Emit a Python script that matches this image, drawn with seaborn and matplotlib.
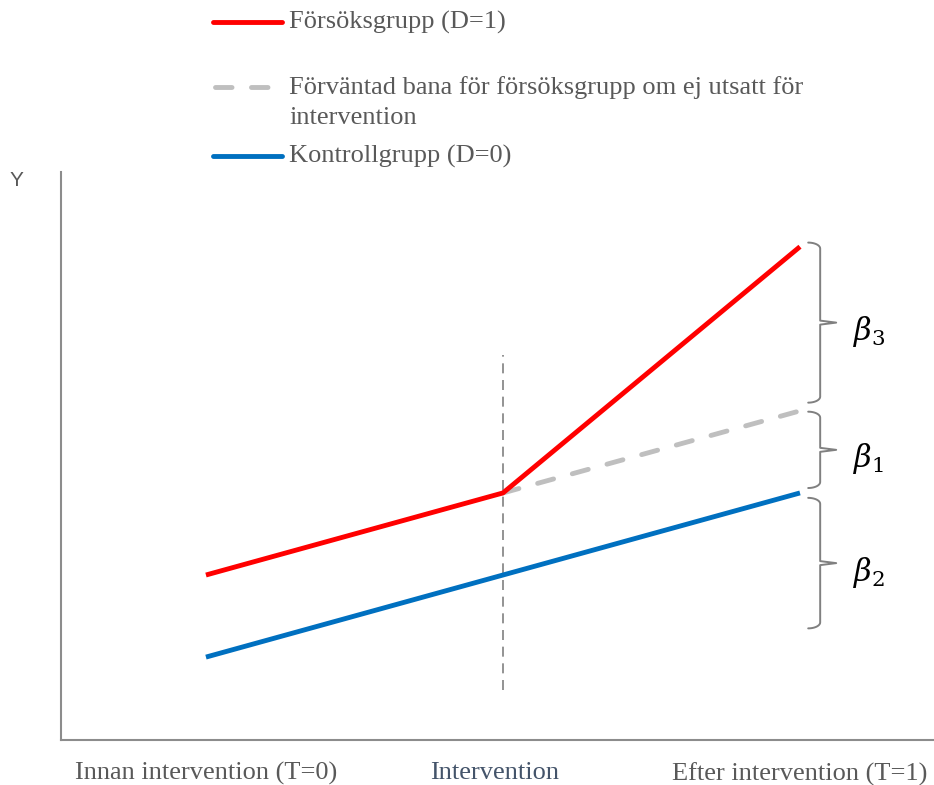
import numpy as np
import pandas as pd
import matplotlib
matplotlib.use("Agg")
import matplotlib.pyplot as plt
from matplotlib.lines import Line2D
from matplotlib.transforms import ScaledTranslation
import seaborn as sns

# ---- data ----
time_points = [0.0, 0.5, 1.0]
treat_y = [1.0, 2.0, 5.0]          # Försöksgrupp (D=1)
control_y = [0.0, 1.0, 2.0]        # Kontrollgrupp (D=0)
cf_x = [0.5, 1.0]
cf_y = [2.0, 3.0]                  # Förväntad bana (counterfactual)
tick_labels = ["Innan intervention (T=0)", "Intervention", "Efter intervention (T=1)"]
tick_colors = ["#595959", "#44546A", "#595959"]
legend_labels = ["Försöksgrupp (D=1)",
                 "Förväntad bana för försöksgrupp om ej utsatt för\nintervention",
                 "Kontrollgrupp (D=0)"]
braces = [(3.10, 5.05, r"$\beta_3$"), (2.06, 2.99, r"$\beta_1$"), (0.35, 1.94, r"$\beta_2$")]

RED = "#FF0000"
BLUE = "#0070C0"
LGRAY = "#BFBFBF"
DGRAY = "#808080"
TXT = "#595959"

sns.set_theme(style="white")
plt.rcParams["font.family"] = ["Liberation Serif", "DejaVu Serif"]
plt.rcParams["mathtext.fontset"] = "dejavuserif"

W, H = 934, 785
fig = plt.figure(figsize=(W / 100, H / 100), dpi=100)
ax = fig.add_axes([61 / W, (H - 740) / H, 1 - 61 / W, (740 - 172) / H])

df_t = pd.DataFrame({"t": time_points, "y": treat_y})
df_c = pd.DataFrame({"t": time_points, "y": control_y})
df_cf = pd.DataFrame({"t": cf_x, "y": cf_y})

sns.lineplot(data=df_c, x="t", y="y", color=BLUE, linewidth=3.5, ax=ax,
             solid_capstyle="butt", zorder=3)
sns.lineplot(data=df_cf, x="t", y="y", color=LGRAY, linewidth=3.5, ax=ax,
             linestyle=(0, (3.4, 4.0)), dash_capstyle="round", zorder=3)
sns.lineplot(data=df_t, x="t", y="y", color=RED, linewidth=3.5, ax=ax,
             solid_capstyle="butt", zorder=4)

# vertical intervention line
ax.plot([0.5, 0.5], [-0.40, 3.68], color=DGRAY, linewidth=1.2,
        linestyle=(0, (6, 4)), zorder=2)

ax.set_xlim(-0.244, 1.2256)
ax.set_ylim(-1.01, 5.91)

# braces
px_x = 1 / 594.0   # data units per pixel (x)
px_y = 1 / 82.0    # data units per pixel (y)
def brace(y0, y1, label):
    xl = 1.034
    tip = xl - 12 * px_x
    mid_x = xl + 16 * px_x
    ym = (y0 + y1) / 2
    r = 6 * px_y
    th = np.linspace(0, np.pi / 2, 12)
    top_x = tip + (xl - tip) * np.sin(th)
    top_y = y1 - r * (1 - np.cos(th))
    bot_x = (tip + (xl - tip) * np.sin(th))[::-1]
    bot_y = (y0 + r * (1 - np.cos(th)))[::-1]
    xs = np.concatenate([top_x, [xl, mid_x, xl], bot_x])
    ys = np.concatenate([top_y, [ym + 2 * px_y, ym, ym - 2 * px_y], bot_y])
    ax.plot(xs, ys, color=DGRAY, linewidth=1.4, clip_on=False, zorder=2,
            solid_joinstyle="round")
    ax.text(xl + 33 * px_x, ym - 9 * px_y, label, fontsize=22, color="black",
            ha="left", va="center")

for y0, y1, lab in braces:
    brace(y0, y1, lab)

# axes styling
for s in ["top", "right"]:
    ax.spines[s].set_visible(False)
for s in ["left", "bottom"]:
    ax.spines[s].set_color("#8C8C8C")
    ax.spines[s].set_linewidth(1.5)
ax.set_yticks([])
ax.set_xticks(time_points)
ax.set_xticklabels(tick_labels, fontsize=19)
for lab, c in zip(ax.get_xticklabels(), tick_colors):
    lab.set_color(c)
ax.tick_params(axis="x", length=0, pad=16)
# the middle label sits slightly left of the intervention line in the reference
mid_lab = ax.get_xticklabels()[1]
mid_lab.set_transform(mid_lab.get_transform() + ScaledTranslation(-8 / 100, 0, fig.dpi_scale_trans))
ax.set_xlabel("")
ax.set_ylabel("")

fig.text(16 / W, 1 - 181 / H, "Y", fontsize=15, color=TXT,
         family=["Liberation Sans", "DejaVu Sans"], ha="center", va="center")

# legend (manual layout)
def fy(p):
    return 1 - p / H
fig.add_artist(Line2D([213 / W, 282 / W], [fy(22), fy(22)], color=RED, linewidth=3.5,
                      solid_capstyle="round"))
fig.add_artist(Line2D([215 / W, 272 / W], [fy(87), fy(87)], color=LGRAY, linewidth=3.5,
                      linestyle=(0, (3.4, 4.0)), dash_capstyle="round"))
fig.add_artist(Line2D([213 / W, 282 / W], [fy(156), fy(156)], color=BLUE, linewidth=3.5,
                      solid_capstyle="round"))
fig.text(289 / W, fy(22), legend_labels[0], fontsize=19, color=TXT, ha="left", va="center")
fig.text(289 / W, fy(102.5), legend_labels[1], fontsize=19, color=TXT, ha="left",
         va="center", linespacing=1.45)
fig.text(289 / W, fy(156), legend_labels[2], fontsize=19, color=TXT, ha="left", va="center")

fig.savefig("out.png", dpi=100)
